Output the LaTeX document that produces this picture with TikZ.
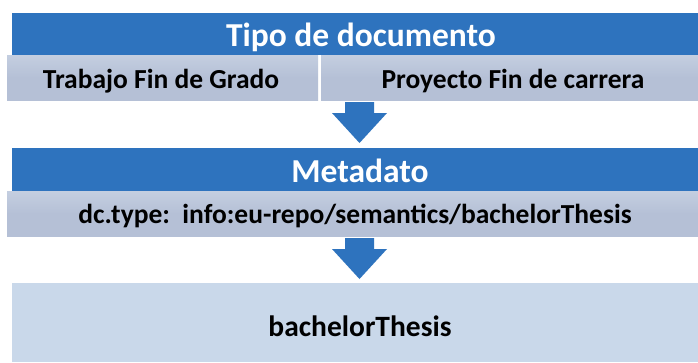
\documentclass[tikz,border=0pt]{standalone}
\usepackage{fontspec}
\setmainfont{Carlito}
\definecolor{barblue}{HTML}{2E73BE}
\definecolor{rowgray}{HTML}{B5C0D6}
\definecolor{rowgraytop}{HTML}{C4CEE0}
\definecolor{boxlight}{HTML}{C9D8EA}
\tikzset{
  bar/.style={fill=barblue, draw=none, inner sep=0pt, anchor=north west},
  cell/.style={top color=rowgraytop, bottom color=rowgray, middle color=rowgray, draw=none, inner sep=0pt, anchor=north west},
  bigtext/.style={text=white, anchor=base, inner sep=0pt, font=\bfseries\fontsize{33.5}{35}\selectfont},
  celltext/.style={text=black, anchor=base, inner sep=0pt, font=\bfseries\fontsize{27.5}{29}\selectfont},
  flowarrow/.style={fill=barblue, draw=none}
}
\begin{document}
\begin{tikzpicture}[x=1pt,y=-1pt]
\useasboundingbox[fill=white] (0,0) rectangle (698,362);
\node[bar, minimum width=686, minimum height=42] (tipo) at (12,13) {};
\node[bigtext] (tipot) at (361,46) {Tipo de documento};
\node[cell, minimum width=311, minimum height=45] (tfg) at (7,55) {};
\node[celltext] (tfgt) at (161,88.5) {Trabajo Fin de Grado};
\node[cell, minimum width=377, minimum height=45] (pfc) at (321,55) {};
\node[celltext] (pfct) at (513,88.5) {Proyecto Fin de carrera};
\node[bar, minimum width=686, minimum height=43] (meta) at (12,148) {};
\node[bigtext] (metat) at (360,182) {Metadato};
\node[cell, minimum width=691, minimum height=45] (dc) at (7,191) {};
\node[celltext] (dct) at (355,223) {dc.type:\ \ info:eu-repo/semantics/bachelorThesis};
\node[fill=boxlight, inner sep=0pt, anchor=north west, minimum width=686, minimum height=79] (bt) at (12,283) {};
\node[celltext, font=\bfseries\fontsize{29.5}{31}\selectfont] (btt) at (360,336) {bachelorThesis};
% arrows
\fill[flowarrow] (345,102) -- (374,102) -- (374,113) -- (387,113) -- (359.5,143) -- (332,113) -- (345,113) -- cycle;
\fill[flowarrow] (345,238) -- (374,238) -- (374,249) -- (387,249) -- (359.5,279) -- (332,249) -- (345,249) -- cycle;
\end{tikzpicture}
\end{document}
